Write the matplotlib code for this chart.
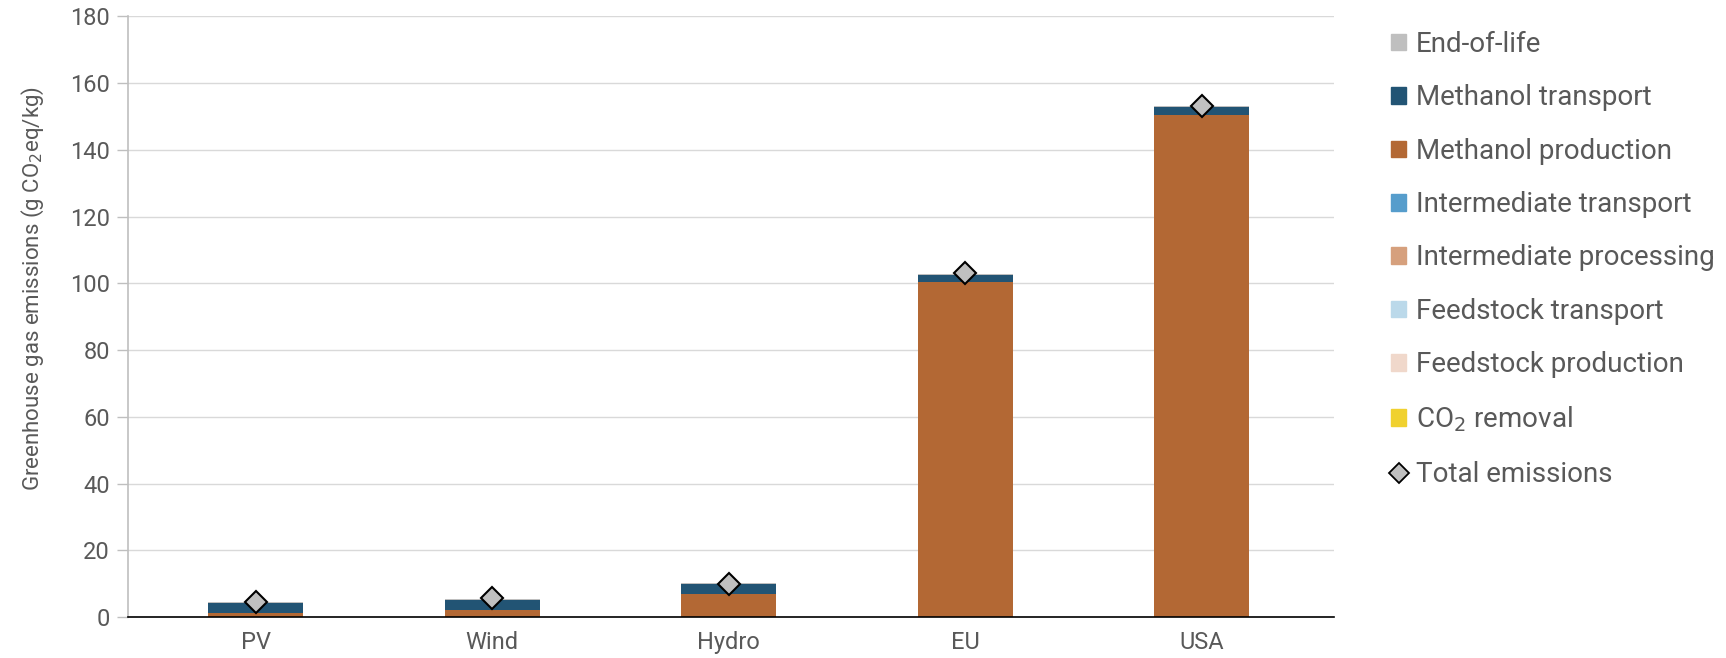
import matplotlib.pyplot as plt
from matplotlib.lines import Line2D
from matplotlib.patches import Patch
import numpy as np

plt.rcParams['font.family'] = ['Roboto', 'DejaVu Sans']

categories = ['PV', 'Wind', 'Hydro', 'EU', 'USA']

# stacked contributions (g CO2eq/kg), bottom to top
co2_removal = [0.0, 0.0, 0.0, 0.0, 0.0]
feedstock_production = [0.0, 0.0, 0.0, 0.0, 0.0]
feedstock_transport = [0.0, 0.0, 0.0, 0.0, 0.0]
intermediate_processing = [0.0, 0.0, 0.0, 0.0, 0.0]
intermediate_transport = [0.0, 0.0, 0.0, 0.0, 0.0]
methanol_production = [1.3, 2.0, 6.9, 100.4, 150.5]
methanol_transport = [3.0, 3.2, 2.9, 2.2, 2.4]
end_of_life = [0.3, 0.3, 0.3, 0.3, 0.3]
total_emissions = [4.5, 5.6, 10.0, 103.0, 153.2]

layers = [
    ('CO$_2$ removal', co2_removal, '#f0d12f'),
    ('Feedstock production', feedstock_production, '#f0d8cb'),
    ('Feedstock transport', feedstock_transport, '#bbd9ea'),
    ('Intermediate processing', intermediate_processing, '#d6a07d'),
    ('Intermediate transport', intermediate_transport, '#569dcc'),
    ('Methanol production', methanol_production, '#b36834'),
    ('Methanol transport', methanol_transport, '#225474'),
    ('End-of-life', end_of_life, '#bfbfbf'),
]

txt = '#595959'
fig = plt.figure(figsize=(17.26, 6.58), dpi=100)
ax = fig.add_axes([0.0742, 0.0623, 0.6988, 0.9127])

x = np.arange(len(categories))
bottom = np.zeros(len(categories))
for name, vals, col in layers:
    vals = np.array(vals)
    ax.bar(x, vals, 0.4, bottom=bottom, color=col, linewidth=0, zorder=2)
    bottom += vals

ax.plot(x, total_emissions, ls='none', marker='D', markersize=11,
        markerfacecolor='#c0c0c0', markeredgecolor='black', markeredgewidth=1.5, zorder=3)

ax.set_ylim(0, 180)
ax.set_yticks(np.arange(0, 181, 20))
ax.set_xlim(-0.54, 4.56)
ax.set_xticks(x)
ax.set_xticklabels(categories)
ax.grid(axis='y', color='#d9d9d9', linewidth=1, zorder=0)
for s in ['top', 'right']:
    ax.spines[s].set_visible(False)
ax.spines['left'].set_color('#bfbfbf')
ax.spines['left'].set_linewidth(1.2)
ax.spines['bottom'].set_color('black')
ax.spines['bottom'].set_linewidth(1.2)
ax.spines['bottom'].set_zorder(4)
ax.tick_params(axis='y', colors='#bfbfbf', labelcolor=txt, labelsize=17, length=8, width=1, pad=5)
ax.tick_params(axis='x', length=0, labelcolor=txt, labelsize=17, pad=10)
ax.set_ylabel('Greenhouse gas emissions (g CO$_2$eq/kg)', color=txt, fontsize=16, labelpad=17)
ax.yaxis.label.set_y(0.547)

handles = [Patch(color=col, label=name) for name, vals, col in layers[::-1]]
handles.append(Line2D([], [], ls='none', marker='D', markersize=10, markerfacecolor='#c0c0c0',
                      markeredgecolor='black', markeredgewidth=1.3, label='Total emissions'))
leg = fig.legend(handles=handles, loc='upper left', bbox_to_anchor=(0.806, 0.953), frameon=False,
                 fontsize=20, labelspacing=0.95, handlelength=0.55, handleheight=0.55, handletextpad=0.35,
                 borderaxespad=0, borderpad=0)
for t in leg.get_texts():
    t.set_color(txt)

fig.savefig('out.png', dpi=100)
